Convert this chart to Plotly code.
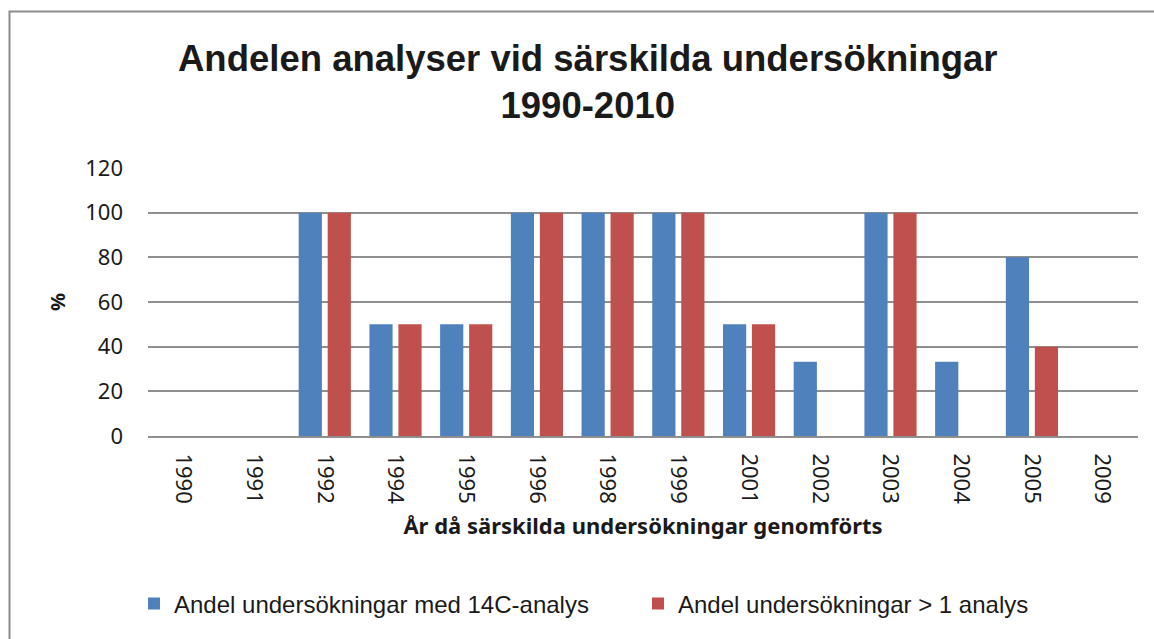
import plotly.graph_objects as go

years = ["1990", "1991", "1992", "1994", "1995", "1996", "1998", "1999",
         "2001", "2002", "2003", "2004", "2005", "2009"]
andel_14c = [0, 0, 100, 50, 50, 100, 100, 100, 50, 33.3, 100, 33.3, 80, 0]
andel_fler = [0, 0, 100, 50, 50, 100, 100, 100, 50, 0, 100, 0, 40, 0]

W, H = 1154, 639
L, R, T, B = 148, 16, 168, 203
pw, ph = W - L - R, H - T - B

def px_x(x):
    return (x - L) / pw

def px_y(y):
    return (H - B - y) / ph

fig = go.Figure()
fig.add_trace(go.Bar(x=years, y=andel_14c, name="Andel undersökningar med 14C-analys",
                     marker=dict(color="#4f81bd", line=dict(width=0)), legend="legend"))
fig.add_trace(go.Bar(x=years, y=andel_fler, name="Andel undersökningar > 1 analys",
                     marker=dict(color="#c0504d", line=dict(width=0)), legend="legend2"))

leg_font = dict(family="Liberation Sans Narrow, Arial Narrow, sans-serif", size=24, color="#1a1a1a")
fig.update_layout(
    width=W, height=H,
    margin=dict(l=L, r=R, t=T, b=B),
    paper_bgcolor="white", plot_bgcolor="white",
    barmode="group", bargap=0.18, bargroupgap=0.2,
    showlegend=True,
    legend=dict(orientation="h", x=px_x(134), xanchor="left", y=px_y(604), yanchor="middle",
                font=leg_font, itemwidth=30),
    legend2=dict(orientation="h", x=px_x(638), xanchor="left", y=px_y(604), yanchor="middle",
                 font=leg_font, itemwidth=30),
    font=dict(family="Noto Sans, sans-serif", color="#1a1a1a"),
)

fig.add_annotation(text="<b>Andelen analyser vid särskilda undersökningar<br>1990-2010</b>",
                   xref="paper", yref="paper", x=px_x(588), y=px_y(82), showarrow=False,
                   xanchor="center", yanchor="middle",
                   font=dict(family="Liberation Sans Narrow, Arial Narrow, sans-serif", size=36.5, color="#1a1a1a"))

fig.update_yaxes(range=[0, 120], dtick=20, showgrid=True, gridcolor="#8f8f8f", gridwidth=1.5,
                 zeroline=False, showline=False, ticks="", ticklabelstandoff=24,
                 tickfont=dict(family="Noto Sans, sans-serif", size=22, color="#1a1a1a"),
                 title=dict(text="<b>%</b>", standoff=14,
                            font=dict(family="Noto Sans, sans-serif", size=20, color="#1a1a1a")))
fig.update_xaxes(type="category", showline=True, linecolor="#8f8f8f", linewidth=2,
                 ticks="", tickangle=90, ticklabelstandoff=11,
                 tickfont=dict(family="Noto Sans, sans-serif", size=22, color="#1a1a1a"),
                 title=dict(text="<b>År då särskilda undersökningar genomförts</b>", standoff=15,
                            font=dict(family="Noto Sans, sans-serif", size=22, color="#1a1a1a")))

fig.add_shape(type="rect", xref="paper", yref="paper",
              x0=px_x(9.5), x1=px_x(1170), y0=px_y(660), y1=px_y(11.5),
              line=dict(color="#8a8a8a", width=2), fillcolor="rgba(0,0,0,0)", layer="below")

fig.write_html("out.html", config={"displayModeBar": False},
               post_script="document.body.style.margin='0';document.body.style.overflow='hidden';")
